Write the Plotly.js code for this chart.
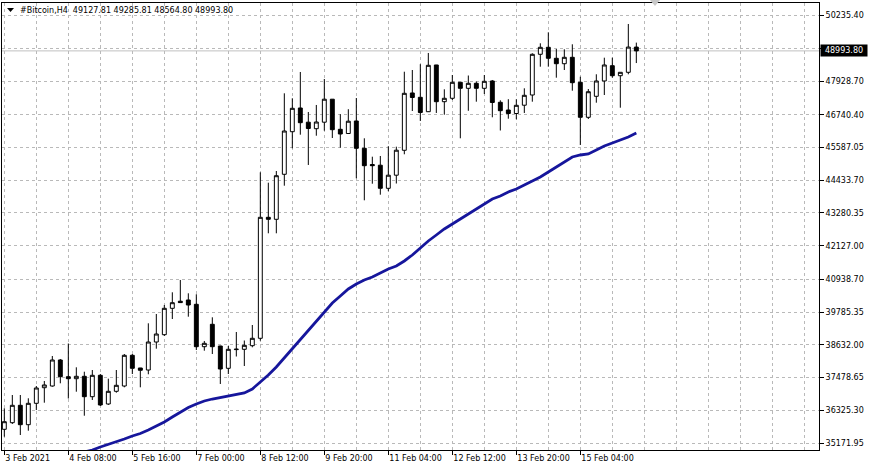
<!DOCTYPE html>
<html><head><meta charset="utf-8">
<script src="https://cdn.plot.ly/plotly-3.0.1.min.js"></script>
<style>html,body{margin:0;padding:0;background:#fff;overflow:hidden}#chart{width:870px;height:467px}</style>
</head><body><div id="chart"></div>
<script>
const symbol = '#Bitcoin,H4';
const openP  = [35655,35888,36501,35817,36571,37121,37181,38098,37509,37439,37523,36804,37558,36547,36994,37181,38263,37816,37745,38732,
  38990,39920,40170,40213,40061,38567,39356,38591,37805,38464,38475,38602,38863,43128,43057,44644,46145,46981,46480,46251,
  46480,47291,46230,46082,46523,45560,44989,44964,44150,44612,45490,47510,47358,46850,48497,47203,47323,47887,47675,47851,
  47675,47933,47182,46910,46787,47079,47439,48874,49120,48733,48542,48768,47887,46653,47393,47933,48472,48119,48239,49127.81];
const highP  = [36395,36864,36864,36748,37181,37358,38239,38133,38679,37840,37685,37745,37604,37439,37745,38309,38309,37820,39391,39719,
  40036,40484,40918,40449,40414,38768,39603,38600,38591,39085,38785,39331,44714,44348,44760,47499,47323,48250,46840,47087,
  48003,47298,46762,46938,47333,45913,45264,45289,45634,45617,48260,48320,48525,48920,48500,47640,48144,47890,48126,47915,
  48144,47968,47252,47291,47287,47675,48909,49261,49649,49061,49050,49226,48084,47650,48169,48754,48754,48245,49942,49285.81];
const lowP   = [35394,35842,35454,35606,36335,36593,37157,37276,36741,36980,36134,36688,36476,36512,36945,37135,37604,37135,37594,38496,
  38944,39543,40107,39624,38450,38426,38309,37252,37604,38221,37886,38545,38778,42564,42564,44242,45560,46040,44972,46004,
  46181,45923,45581,46064,44503,43727,44312,43925,44048,44319,45349,46875,46523,46840,46805,46745,47263,45913,46882,47203,
  47474,46653,46188,46604,46582,46805,47203,48437,48437,48049,48320,47591,45676,46593,47168,47439,48049,46991,48169,48564.80];
const closeP = [35923,36501,35817,36571,37111,37217,38098,37509,37439,37523,36804,37558,36512,36994,37206,38263,37805,37735,38732,39014,
  39920,40118,40121,40036,38567,38686,38567,37780,38475,38478,38616,38863,43128,43057,44594,46170,46970,46463,46258,46487,
  47291,46216,46064,46515,45560,44947,44947,44150,44612,45493,47499,47351,46822,48486,47203,47323,47887,47675,47851,47675,
  47922,47175,46886,46787,47076,47428,48874,49120,48733,48542,48768,47873,46653,47555,47933,48497,48119,48239,49128,48993.80];
const maP = [null,null,null,null,null,null,null,null,null,null,
  34855,34925,35031,35119,35207,35313,35419,35507,35630,35771,
  35912,36089,36265,36423,36547,36653,36723,36776,36829,36864,
  36935,37076,37322,37569,37851,38168,38486,38803,39155,39473,
  39790,40107,40354,40601,40777,40918,41024,41165,41306,41411,
  41588,41799,42046,42293,42504,42716,42892,43068,43244,43421,
  43597,43773,43879,44020,44126,44267,44408,44549,44725,44901,
  45077,45254,45324,45359,45500,45641,45747,45853,45959,46100];
const xTickIdx  = [0,8,16,24,32,40,48,56,64,72];
const xTickText = ['3 Feb 2021','4 Feb 08:00','5 Feb 16:00','7 Feb 00:00','8 Feb 12:00','9 Feb 20:00','11 Feb 04:00','12 Feb 12:00','13 Feb 20:00','15 Feb 04:00'];
const yTickVals = [35171.95,36325.30,37478.65,38632.00,39785.35,40938.70,42127.00,43280.35,44433.70,45587.05,46740.40,47928.70,49082.05,50235.40];
const yTickText = ['35171.95','36325.30','37478.65','38632.00','39785.35','40938.70','42127.00','43280.35','44433.70','45587.05','46740.40','47928.70','','50235.40'];

const idx = openP.map((_, i) => i);
const last = openP.length - 1;
const fmt = v => v.toFixed(2);

const W = 870, H = 467, L = 2, R = 51, T = 3, B = 17;
const pw = W - L - R, ph = H - T - B;
const px = x => (x - L) / pw, py = y => (H - B - y) / ph;
const font = {family: 'DejaVu Sans', size: 8, color: '#000'};
const grid = {gridcolor: '#b9b9b9', griddash: '3px,3px', gridwidth: 1};

const traces = [
  {type: 'candlestick', x: idx, open: openP, high: highP, low: lowP, close: closeP,
   increasing: {line: {color: '#000', width: 1}, fillcolor: '#fff'},
   decreasing: {line: {color: '#000', width: 1}, fillcolor: '#000'},
   whiskerwidth: 0, hoverinfo: 'skip', showlegend: false},
  {type: 'scatter', mode: 'lines', x: idx, y: maP,
   line: {color: '#16169c', width: 2.8}, hoverinfo: 'skip', showlegend: false}
];

const layout = {
  width: W, height: H, margin: {l: L, r: R, t: T, b: B},
  paper_bgcolor: '#fff', plot_bgcolor: '#fff', font: font, showlegend: false,
  title: {text: symbol + '  ' + [openP[last], highP[last], lowP[last], closeP[last]].map(fmt).join(' '),
          font: font, x: 20 / W, xref: 'container', xanchor: 'left', y: 1 - 10.5 / H, yref: 'container', yanchor: 'middle'},
  xaxis: Object.assign({range: [-0.29, 101.835], tickmode: 'array', tickvals: xTickIdx, ticktext: xTickText,
    ticklabelposition: 'outside right', ticks: 'outside', ticklen: 4, tickcolor: '#000', tickfont: font,
    showgrid: true, showline: true, linecolor: '#000', linewidth: 1, mirror: true, zeroline: false,
    rangeslider: {visible: false}, fixedrange: true,
    minor: {tick0: 0, dtick: 4, showgrid: true, gridcolor: '#b9b9b9', griddash: '3px,3px', ticks: ''}}, grid),
  yaxis: Object.assign({range: [34925.2, 50681.95], side: 'right', tickmode: 'array', tickvals: yTickVals, ticktext: yTickText,
    ticks: 'outside', ticklen: 4, tickcolor: '#000', tickfont: font, showgrid: true,
    showline: true, linecolor: '#000', linewidth: 1, mirror: true, zeroline: false, fixedrange: true}, grid),
  shapes: [
    {type: 'line', xref: 'paper', x0: 0, x1: 1, yref: 'y', y0: closeP[last], y1: closeP[last], line: {color: '#c0c0c0', width: 1}, layer: 'below'},
    {type: 'path', xref: 'paper', yref: 'paper', path: `M ${px(7)},${py(8)} L ${px(14)},${py(8)} L ${px(10.5)},${py(12)} Z`, fillcolor: '#000', line: {width: 0}},
    {type: 'path', xref: 'paper', yref: 'paper', path: `M ${px(650)},${py(0)} L ${px(660)},${py(0)} L ${px(655)},${py(6)} Z`, fillcolor: '#c8c8c8', line: {width: 0}}
  ],
  annotations: [
    {xref: 'paper', x: 1, xanchor: 'left', xshift: 1, yref: 'y', y: closeP[last], yanchor: 'middle',
     text: fmt(closeP[last]), showarrow: false, bgcolor: '#000', font: {family: 'DejaVu Sans', size: 8, color: '#fff'},
     width: 46, height: 11, borderpad: 0, align: 'center'}
  ]
};

Plotly.newPlot('chart', traces, layout, {staticPlot: true, displayModeBar: false});
</script>
</body></html>
